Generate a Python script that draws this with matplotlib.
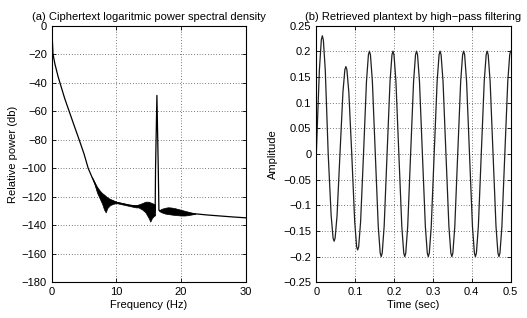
import numpy as np
import matplotlib.pyplot as plt

plt.rcParams['font.family'] = ['Liberation Sans', 'DejaVu Sans']
plt.rcParams['font.size'] = 8
plt.rcParams['axes.titlesize'] = 8

# (a) power spectral density, centre line
psd_freq = [0, 0.1, 0.2, 0.5, 1.0, 1.5, 2.0, 2.69, 3.5, 4.24, 5.0, 5.64,
            6.2, 6.6, 7.0, 7.4, 7.8, 8.3, 9.0, 10.0, 11.0, 12.0, 13.0, 14.0,
            15.0, 15.5, 16.0, 16.06, 16.27, 16.48, 16.58, 17.0, 18.0, 19.0,
            20.0, 21.0, 22.2, 24.0, 26.0, 28.0, 30.0]
psd_db = [-1, -10, -20, -27, -36, -43.5, -51, -60, -70.5, -80, -90, -100,
          -106, -110, -114, -117, -119, -121, -122.5, -124, -125, -126,
          -126.5, -126.5, -128, -128.5, -130, -100, -49, -100, -129.5,
          -130, -130, -130.5, -131, -131.5, -132, -132.8, -133.5, -134.2, -134.8]

# dense ripple band, upper / lower envelope
band1_freq = [6.2, 6.6, 7.0, 7.4, 7.8, 8.1, 8.35, 8.6, 9.0, 9.5, 10.0, 10.5,
              11.0, 12.0, 13.0, 13.4, 14.0, 14.5, 15.0, 15.25, 15.5, 15.8, 16.0]
band1_hi = [-106, -109.5, -113, -115.5, -117.5, -118.5, -119.5, -120.5, -121.5,
            -122.5, -123.5, -124, -124.5, -125.5, -126, -125.5, -124.5, -123.5,
            -123.5, -124, -124.5, -125, -125.5]
band1_lo = [-106, -111, -117, -121, -125, -129, -131, -128, -126, -125, -124.5,
            -125, -125.5, -126.5, -127.5, -127.5, -129, -131, -135, -137.5,
            -135, -133.5, -133]
band2_freq = [16.6, 17.0, 17.5, 18.0, 18.5, 19.0, 19.5, 20.0, 20.5, 21.0, 21.5, 22.2]
band2_hi = [-129.5, -128.5, -127.8, -127.4, -127.6, -128.0, -128.6, -129.2,
            -129.8, -130.4, -131, -131.8]
band2_lo = [-130, -131, -131.8, -132.2, -132.5, -132.8, -133, -133.2, -133.2,
            -133, -132.6, -132]

# (b) retrieved plaintext
sig_t = [0.0, 0.0079, 0.0129, 0.0155, 0.0181, 0.0231,
         0.0306, 0.0382, 0.0432, 0.0458, 0.0484, 0.0534,
         0.0609, 0.0685, 0.0735, 0.0761, 0.0787, 0.0837,
         0.0912, 0.0988, 0.1038, 0.1064, 0.109, 0.114,
         0.1215, 0.1291, 0.1341, 0.1367, 0.1393, 0.1443,
         0.1518, 0.1594, 0.1644, 0.167, 0.1696, 0.1746,
         0.1821, 0.1897, 0.1947, 0.1973, 0.1999, 0.2049,
         0.2124, 0.22, 0.225, 0.2276, 0.2302, 0.2352,
         0.2427, 0.2503, 0.2553, 0.2579, 0.2605, 0.2655,
         0.273, 0.2806, 0.2856, 0.2882, 0.2908, 0.2958,
         0.3033, 0.3109, 0.3159, 0.3185, 0.3211, 0.3261,
         0.3336, 0.3412, 0.3462, 0.3488, 0.3514, 0.3564,
         0.3639, 0.3715, 0.3765, 0.3791, 0.3817, 0.3867,
         0.3942, 0.4018, 0.4068, 0.4094, 0.412, 0.417,
         0.4245, 0.4321, 0.4371, 0.4397, 0.4423, 0.4473,
         0.4548, 0.4624, 0.4674, 0.47, 0.4726, 0.4776,
         0.4851, 0.4927, 0.4977, 0.5]
sig_v = [0, 0.163, 0.222, 0.23, 0.222, 0.163,
         0, -0.120, -0.164, -0.17, -0.164, -0.120,
         0, 0.120, 0.164, 0.17, 0.164, 0.120,
         0, -0.132, -0.181, -0.187, -0.181, -0.132,
         0, 0.141, 0.193, 0.2, 0.193, 0.141,
         0, -0.141, -0.193, -0.2, -0.193, -0.141,
         0, 0.141, 0.193, 0.2, 0.193, 0.141,
         0, -0.141, -0.193, -0.2, -0.193, -0.141,
         0, 0.141, 0.193, 0.2, 0.193, 0.141,
         0, -0.141, -0.193, -0.2, -0.193, -0.141,
         0, 0.141, 0.193, 0.2, 0.193, 0.141,
         0, -0.141, -0.193, -0.2, -0.193, -0.141,
         0, 0.141, 0.193, 0.2, 0.193, 0.141,
         0, -0.141, -0.193, -0.2, -0.193, -0.141,
         0, 0.141, 0.193, 0.2, 0.193, 0.141,
         0, -0.141, -0.193, -0.2, -0.193, -0.141,
         0, 0.141, 0.193, 0.2]

fig = plt.figure(figsize=(5.27, 3.18), dpi=100)
ax1 = fig.add_axes([0.0981, 0.1123, 0.3681, 0.8075])
ax2 = fig.add_axes([0.6002, 0.1123, 0.3687, 0.8075])

ax1.fill_between(band1_freq, band1_lo, band1_hi, color='black', lw=0.5)
ax1.fill_between(band2_freq, band2_lo, band2_hi, color='black', lw=0.5)
ax1.plot(psd_freq, psd_db, color='black', lw=0.9)
ax1.set_xlim(0, 30)
ax1.set_ylim(-180, 0)
ax1.set_xticks([0, 10, 20, 30])
ax1.set_yticks(np.arange(-180, 1, 20))
ax1.set_xlabel('Frequency (Hz)', labelpad=2)
ax1.set_ylabel('Relative power (db)', labelpad=3)
ax1.set_title('(a) Ciphertext logaritmic power spectral density', pad=4)

ax2.plot(sig_t, sig_v, color='#202020', lw=0.9)
ax2.set_xlim(0, 0.5)
ax2.set_ylim(-0.25, 0.25)
ax2.set_xticks(np.arange(0, 0.51, 0.1))
ax2.set_xticklabels(['0', '0.1', '0.2', '0.3', '0.4', '0.5'])
ax2.set_yticks(np.arange(-0.25, 0.26, 0.05))
ax2.set_yticklabels(['\u22120.25', '\u22120.2', '\u22120.15', '\u22120.1', '\u22120.05',
                     '0', '0.05', '0.1', '0.15', '0.2', '0.25'])
ax2.set_xlabel('Time (sec)', labelpad=2)
ax2.set_ylabel('Amplitude', labelpad=4)
ax2.set_title('(b) Retrieved plantext by high\u2212pass filtering', pad=4)

for ax in (ax1, ax2):
    ax.grid(True, color='black', linestyle=(0, (1, 3)), lw=0.5)
    ax.tick_params(direction='in', top=True, right=True, length=3, width=0.6, pad=3.5)
    for s in ax.spines.values():
        s.set_linewidth(0.8)

fig.savefig('out.png', dpi=100)
